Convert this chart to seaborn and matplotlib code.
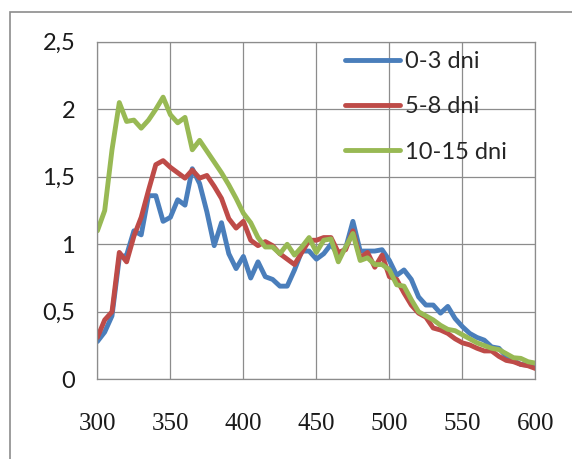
import matplotlib
matplotlib.use("Agg")
import matplotlib.pyplot as plt
import pandas as pd
import seaborn as sns
from matplotlib.patches import Rectangle
from matplotlib.ticker import FuncFormatter

# Wavelength grid (nm) and the three measured series
wavelength = list(range(300, 605, 5))

dni_0_3 = [0.28, 0.35, 0.47, 0.90, 0.92, 1.10, 1.07, 1.36, 1.36, 1.17, 1.20, 1.33, 1.29,
           1.56, 1.45, 1.24, 0.99, 1.16, 0.93, 0.82, 0.91, 0.75, 0.87, 0.76, 0.74,
           0.69, 0.69, 0.81, 0.95, 0.95, 0.89, 0.93, 1.00, 0.92, 0.97, 1.17, 0.95,
           0.95, 0.95, 0.96, 0.88, 0.77, 0.81, 0.74, 0.61, 0.55, 0.55, 0.49, 0.54,
           0.45, 0.39, 0.34, 0.31, 0.29, 0.24, 0.23, 0.17, 0.14, 0.11, 0.105, 0.105]

dni_5_8 = [0.31, 0.44, 0.50, 0.94, 0.87, 1.06, 1.20, 1.40, 1.59, 1.62, 1.57, 1.53, 1.49,
           1.55, 1.49, 1.51, 1.43, 1.34, 1.19, 1.12, 1.17, 1.03, 0.99, 1.02, 0.99,
           0.93, 0.89, 0.85, 0.94, 1.03, 1.03, 1.05, 1.05, 0.94, 0.96, 1.10, 0.90,
           0.94, 0.83, 0.92, 0.76, 0.74, 0.64, 0.55, 0.49, 0.46, 0.38, 0.365, 0.34,
           0.30, 0.27, 0.255, 0.23, 0.21, 0.21, 0.17, 0.14, 0.13, 0.11, 0.10, 0.08]

dni_10_15 = [1.10, 1.25, 1.70, 2.05, 1.91, 1.92, 1.86, 1.92, 2.00, 2.09, 1.96, 1.90, 1.94,
             1.70, 1.77, 1.69, 1.61, 1.53, 1.44, 1.34, 1.23, 1.16, 1.05, 0.98, 0.98,
             0.93, 1.00, 0.92, 0.98, 1.05, 0.94, 1.03, 1.04, 0.87, 0.98, 1.08, 0.88,
             0.90, 0.85, 0.85, 0.81, 0.70, 0.69, 0.59, 0.50, 0.47, 0.44, 0.40, 0.37,
             0.36, 0.33, 0.30, 0.27, 0.25, 0.23, 0.22, 0.19, 0.16, 0.155, 0.13, 0.12]

series_names = ["0-3 dni", "5-8 dni", "10-15 dni"]
series_colors = ["#4A7EBB", "#BE4B48", "#98B954"]
x_ticks = [300, 350, 400, 450, 500, 550, 600]
y_ticks = [0, 0.5, 1, 1.5, 2, 2.5]

frames = []
for name, values in zip(series_names, [dni_0_3, dni_5_8, dni_10_15]):
    frames.append(pd.DataFrame({"wavelength": wavelength, "value": values, "series": name}))
data = pd.concat(frames, ignore_index=True)

sns.set_style("white")
plt.rcParams["font.family"] = ["Lato", "DejaVu Sans"]

fig = plt.figure(figsize=(5.72, 4.59), dpi=100)
ax = fig.add_axes([97.4 / 572, 1 - 379.3 / 459, (535.4 - 97.4) / 572, (379.3 - 41.8) / 459])

sns.lineplot(data=data, x="wavelength", y="value", hue="series",
             hue_order=series_names, palette=series_colors,
             linewidth=3.5, ax=ax, legend=True)
for line in ax.get_lines():
    line.set_solid_joinstyle("round")
    line.set_solid_capstyle("round")

grid_color = "#8C8C8C"
ax.set_xlim(300, 600)
ax.set_ylim(0, 2.5)
ax.set_xticks(x_ticks)
ax.set_yticks(y_ticks)
ax.grid(True, color=grid_color, linewidth=0.9)
ax.set_axisbelow(True)
for spine in ax.spines.values():
    spine.set_color(grid_color)
    spine.set_linewidth(0.9)

ax.yaxis.set_major_formatter(FuncFormatter(lambda v, _: f"{v:g}".replace(".", ",")))
ax.tick_params(axis="y", direction="out", length=7, width=0.9, color=grid_color,
               pad=9, labelsize=17, labelcolor="#1a1a1a")
ax.tick_params(axis="x", direction="out", length=5, width=0.9, color=grid_color,
               pad=19, labelsize=18, labelcolor="#1a1a1a")
for lbl in ax.get_xticklabels():
    lbl.set_fontfamily(["Liberation Serif", "DejaVu Serif"])

ax.set_xlabel("")
ax.set_ylabel("")

handles, labels = ax.get_legend_handles_labels()
ax.legend(handles, labels, loc="upper left", bbox_to_anchor=(345 / 572, 1 - 51 / 459),
          bbox_transform=fig.transFigure, frameon=False, fontsize=17,
          handlelength=2.33, handletextpad=0.21, labelspacing=1.03, borderpad=0,
          borderaxespad=0)

# outer chart-area frame
fig.patches.append(Rectangle((9.5 / 572, -0.05), 1.2, 1 - 11.5 / 459 + 0.05,
                             transform=fig.transFigure, fill=False,
                             edgecolor="#8C8C8C", linewidth=1.2))

fig.savefig("out.png", dpi=100)
